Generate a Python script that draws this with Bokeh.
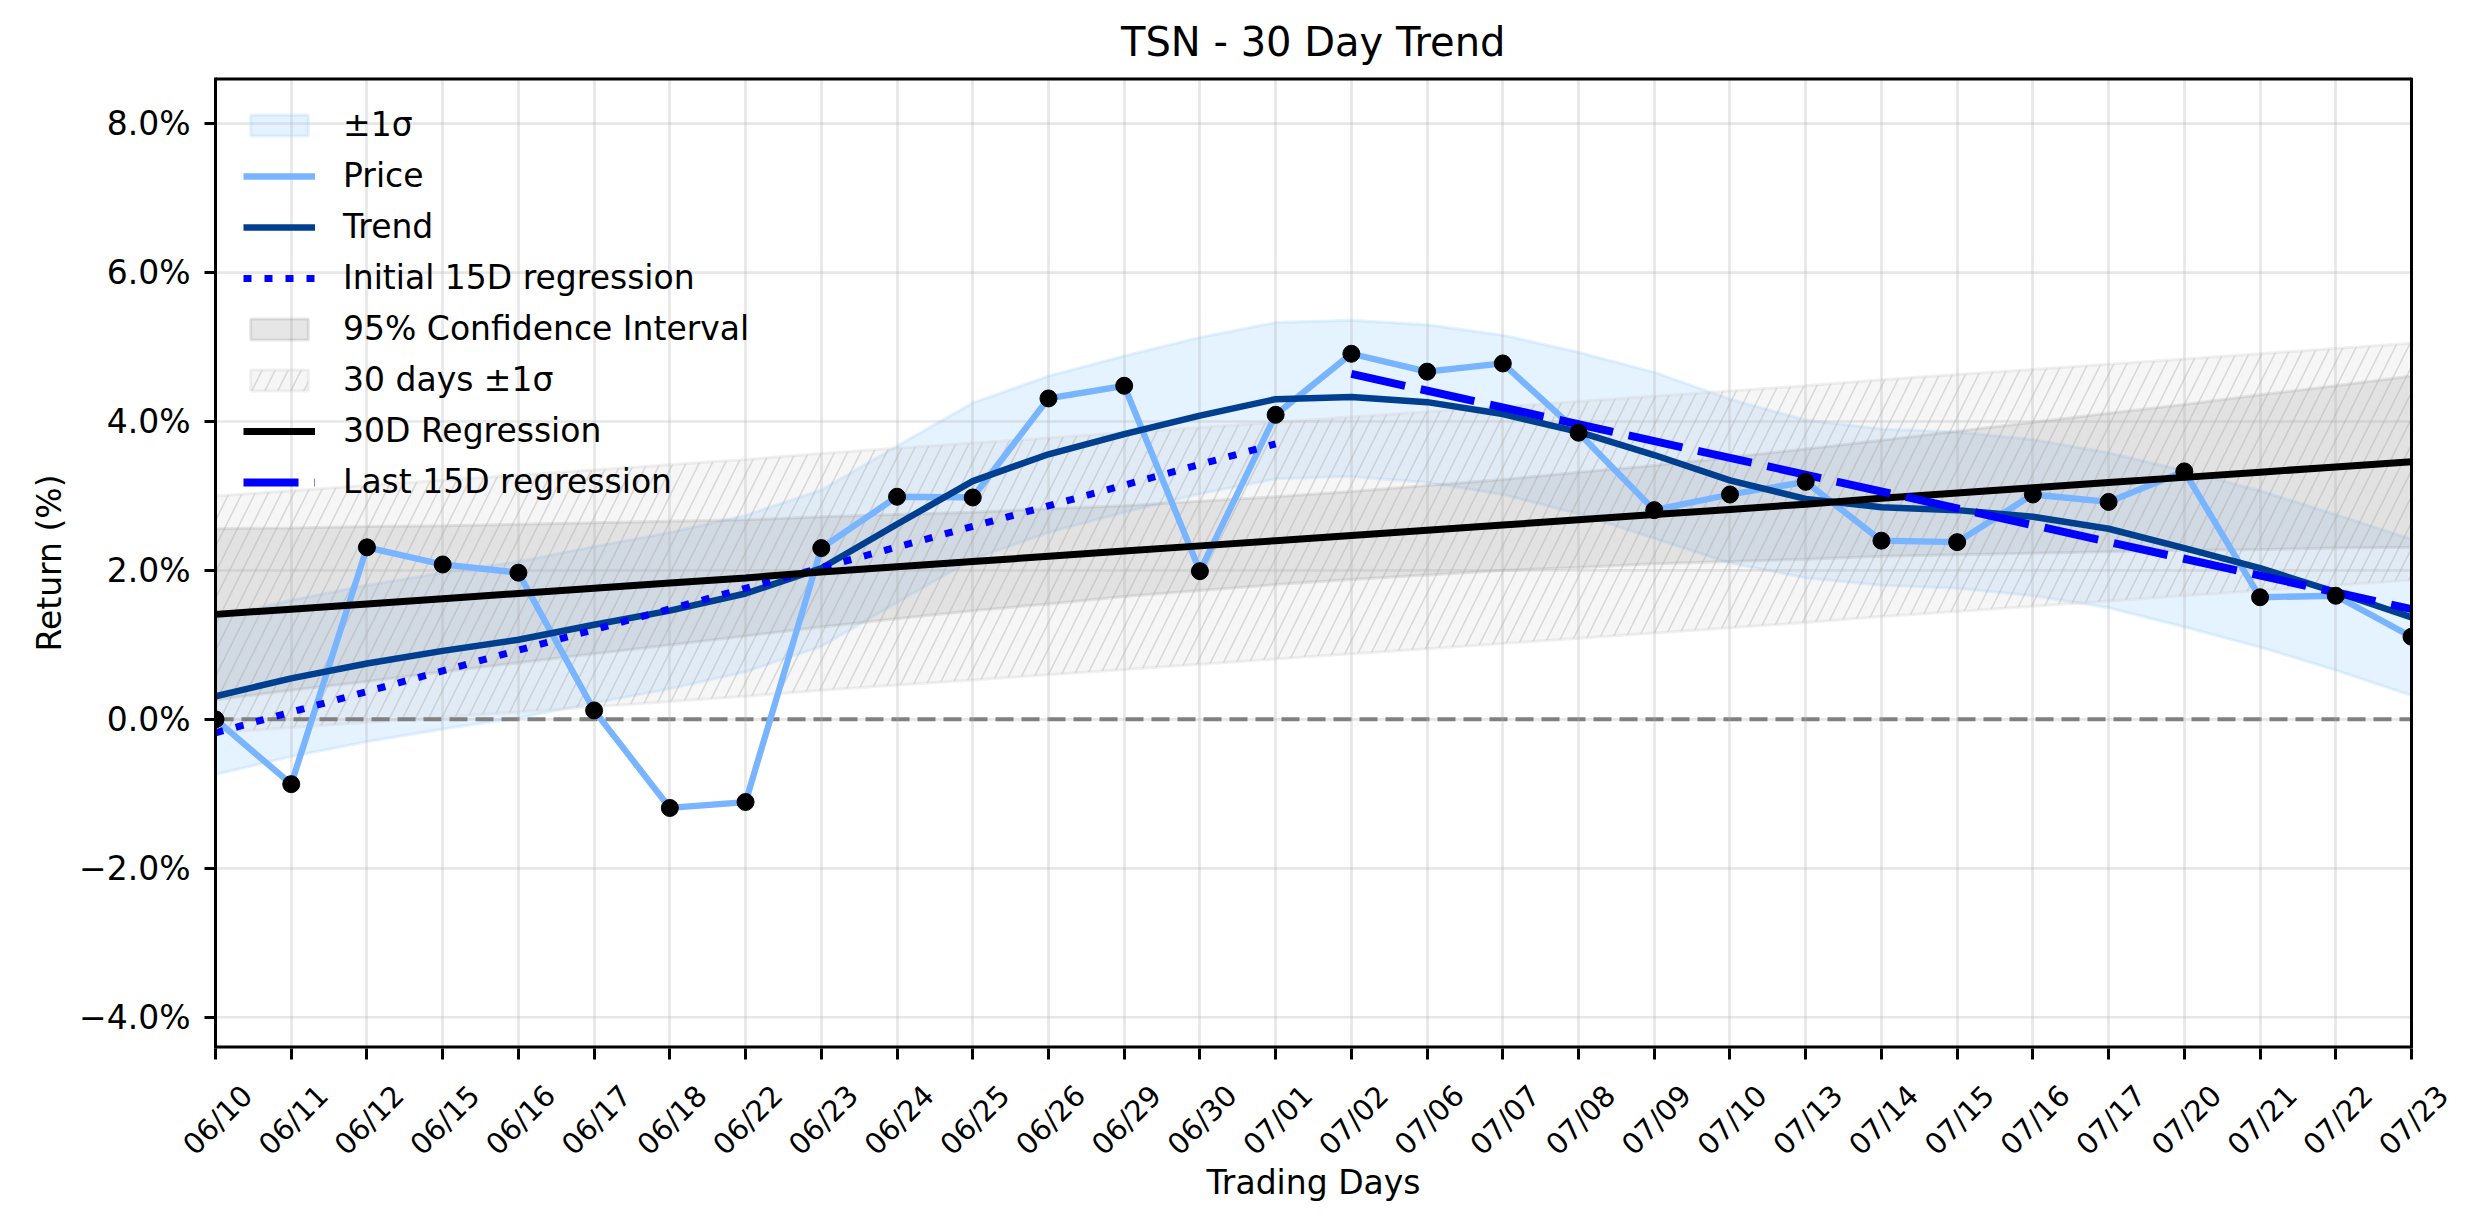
import math
from bokeh.plotting import figure
from bokeh.models import (Range1d, FixedTicker, CustomJSTickFormatter, Legend,
                          LegendItem, ColumnDataSource, LinearAxis)
from bokeh.embed import file_html
from bokeh.resources import INLINE

# ---------------- data ----------------
dates = ["06/10", "06/11", "06/12", "06/15", "06/16", "06/17", "06/18", "06/22",
         "06/23", "06/24", "06/25", "06/26", "06/29", "06/30", "07/01", "07/02",
         "07/06", "07/07", "07/08", "07/09", "07/10", "07/13", "07/14", "07/15",
         "07/16", "07/17", "07/20", "07/21", "07/22", "07/23"]

price = [0.00, -0.87, 2.31, 2.08, 1.97, 0.12, -1.19, -1.11, 2.30, 2.99,
         2.98, 4.31, 4.48, 1.99, 4.09, 4.91, 4.67, 4.78, 3.85, 2.81,
         3.02, 3.19, 2.40, 2.38, 3.02, 2.92, 3.33, 1.64, 1.66, 1.11]

trend = [0.31, 0.55, 0.75, 0.92, 1.07, 1.27, 1.46, 1.69, 2.03, 2.62,
         3.20, 3.56, 3.83, 4.08, 4.30, 4.33, 4.26, 4.10, 3.86, 3.55,
         3.21, 2.96, 2.85, 2.81, 2.72, 2.56, 2.30, 2.03, 1.71, 1.37]

sigma_upper = [1.36, 1.60, 1.80, 1.97, 2.12, 2.32, 2.51, 2.74, 3.08, 3.67,
               4.25, 4.61, 4.88, 5.13, 5.33, 5.36, 5.30, 5.16, 4.93, 4.66,
               4.30, 4.02, 3.90, 3.86, 3.76, 3.58, 3.34, 3.07, 2.75, 2.42]
sigma_lower = [-0.74, -0.50, -0.30, -0.13, 0.02, 0.22, 0.41, 0.64, 0.98, 1.57,
               2.15, 2.51, 2.78, 3.03, 3.23, 3.26, 3.18, 3.02, 2.76, 2.43,
               2.10, 1.90, 1.80, 1.76, 1.66, 1.50, 1.24, 0.97, 0.66, 0.32]

reg30 = [1.41, 1.48, 1.55, 1.62, 1.69, 1.76, 1.83, 1.90, 1.98, 2.05,
         2.12, 2.19, 2.26, 2.33, 2.40, 2.47, 2.54, 2.61, 2.68, 2.75,
         2.82, 2.89, 2.97, 3.04, 3.11, 3.18, 3.25, 3.32, 3.39, 3.46]

ci_upper = [2.56, 2.57, 2.59, 2.60, 2.62, 2.64, 2.66, 2.68, 2.72, 2.75,
            2.78, 2.83, 2.87, 2.93, 2.99, 3.06, 3.14, 3.22, 3.32, 3.41,
            3.52, 3.63, 3.75, 3.87, 3.99, 4.11, 4.23, 4.36, 4.48, 4.61]
ci_lower = [0.26, 0.39, 0.51, 0.64, 0.76, 0.88, 1.00, 1.12, 1.24, 1.35,
            1.46, 1.55, 1.65, 1.73, 1.81, 1.88, 1.94, 2.00, 2.04, 2.09,
            2.12, 2.15, 2.19, 2.21, 2.23, 2.25, 2.27, 2.28, 2.30, 2.31]

band30_upper = [3.00, 3.07, 3.14, 3.21, 3.28, 3.35, 3.42, 3.49, 3.57, 3.64,
                3.71, 3.78, 3.85, 3.92, 3.99, 4.06, 4.13, 4.20, 4.27, 4.34,
                4.41, 4.48, 4.56, 4.63, 4.70, 4.77, 4.84, 4.91, 4.98, 5.05]
band30_lower = [-0.18, -0.11, -0.04, 0.03, 0.10, 0.17, 0.24, 0.31, 0.39, 0.46,
                0.53, 0.60, 0.67, 0.74, 0.81, 0.88, 0.95, 1.02, 1.09, 1.16,
                1.23, 1.30, 1.38, 1.45, 1.52, 1.59, 1.66, 1.73, 1.80, 1.87]

init15_days = ["06/10", "07/01"]
init15_vals = [-0.18, 3.70]
last15_days = ["07/02", "07/23"]
last15_vals = [4.64, 1.48]

y_ticks = [-4, -2, 0, 2, 4, 6, 8]

# ---------------- layout constants ----------------
FONT = "DejaVu Sans"
idx = list(range(len(dates)))
N = len(dates) - 1
Y0, Y1 = -4.42, 8.62
W, H = 2474, 1224
LEFT, RIGHT, TOP, BOTTOM = 215, 63, 77, 176
PPU = (W - LEFT - RIGHT) / N          # pixels per trading day
XEND = N + RIGHT / PPU                 # frame runs on to the canvas edge
NBSP = "\u00a0"

p = figure(width=W, height=H, output_backend="svg", toolbar_location=None,
           x_range=Range1d(0, XEND), y_range=Range1d(Y0, Y1),
           min_border_left=LEFT, min_border_right=0,
           min_border_top=TOP, min_border_bottom=BOTTOM,
           title="TSN - 30 Day Trend" + NBSP * 5)
p.background_fill_color = "white"
p.border_fill_color = "white"
p.outline_line_color = None

p.title.text_font = FONT
p.title.text_font_size = "40px"
p.title.text_font_style = "normal"
p.title.text_color = "black"
p.title.align = "center"
p.title.standoff = 26

src = ColumnDataSource(dict(x=idx, price=price, trend=trend))


def band_poly(upper, lower):
    return idx + idx[::-1], list(upper) + list(lower)[::-1]


# horizontal grid lines, limited to the axes box
p.segment(x0=[0] * len(y_ticks), x1=[N] * len(y_ticks), y0=y_ticks, y1=y_ticks,
          line_color="#b0b0b0", line_alpha=0.3, line_width=2.7, level="underlay")

xs, ys = band_poly(sigma_upper, sigma_lower)
r_sig = p.patch(xs, ys, fill_color="#99ccff", fill_alpha=0.25,
                line_color="#99ccff", line_alpha=0.25, line_width=3, level="image")

r_price = p.line("x", "price", source=src, line_color="#78b4ff", line_width=6.3)
r_trend = p.line("x", "trend", source=src, line_color="#003f8f", line_width=6.5)
r_init = p.line([dates.index(d) for d in init15_days], init15_vals,
                line_color="#0000ff", line_width=7, line_dash="8 13")

xs, ys = band_poly(ci_upper, ci_lower)
r_ci = p.patch(xs, ys, fill_color="gray", fill_alpha=0.2,
               line_color="gray", line_alpha=0.2, line_width=3, level="image")

xs, ys = band_poly(band30_upper, band30_lower)
r_b30 = p.patch(xs, ys, fill_color="#d3d3d3", fill_alpha=0.2,
                line_color="#d3d3d3", line_alpha=0.35, line_width=3,
                hatch_pattern="/", hatch_color="#a0a0a0", hatch_alpha=0.35,
                hatch_scale=26, hatch_weight=1.6, level="image")

r_reg = p.line(idx, reg30, line_color="black", line_width=7)
r_last = p.line([dates.index(d) for d in last15_days], last15_vals,
                line_color="#0000ff", line_width=8, line_dash="55 16")

# zero reference line
p.segment(x0=[0], x1=[N], y0=[0], y1=[0], line_color="gray", line_width=4,
          line_dash="18 8", level="underlay")

p.scatter("x", "price", source=src, size=17, fill_color="black", line_color="black")

# mask everything to the right of the last day, then draw the box
p.quad(left=[N], right=[XEND], bottom=[Y0], top=[Y1],
       fill_color="white", line_color=None)
p.segment(x0=[0, N, 0], x1=[N, N, N], y0=[Y1, Y0, Y0], y1=[Y1, Y1, Y0],
          line_color="black", line_width=[6, 3, 6])

# ---------------- axes ----------------
p.xaxis.ticker = FixedTicker(ticks=idx)
p.xaxis.major_label_overrides = {i: "" for i in idx}
p.xaxis.major_label_text_font_size = "0px"
p.xaxis.major_label_standoff = 0
p.xaxis.axis_line_color = None
p.xaxis.major_tick_line_color = "black"
p.xaxis.major_tick_line_width = 3
p.xaxis.major_tick_out = 11
p.xaxis.major_tick_in = 0
p.xaxis.minor_tick_line_color = None

# rotated day labels on a shifted copy of the x scale (centred under ticks)
LABEL_SHIFT = 0.42
p.extra_x_ranges = {"lab": Range1d(-LABEL_SHIFT, XEND - LABEL_SHIFT)}
lab_axis = LinearAxis(x_range_name="lab", ticker=FixedTicker(ticks=idx),
                      major_label_overrides={i: d for i, d in zip(idx, dates)},
                      major_label_orientation=math.pi / 4,
                      major_label_text_font=FONT, major_label_text_font_size="29px",
                      major_label_text_color="black", major_label_standoff=25,
                      axis_line_color=None, major_tick_line_color=None,
                      minor_tick_line_color=None,
                      axis_label="Trading Days" + NBSP * 6, axis_label_standoff=-14,
                      axis_label_text_font=FONT, axis_label_text_font_size="33px",
                      axis_label_text_font_style="normal", axis_label_text_color="black")
p.add_layout(lab_axis, "below")

p.yaxis.ticker = FixedTicker(ticks=y_ticks)
p.yaxis.formatter = CustomJSTickFormatter(
    code="return (tick < 0 ? '\u2212' : '') + Math.abs(tick).toFixed(1) + '%';")
p.yaxis.major_label_text_font = FONT
p.yaxis.major_label_text_font_size = "33px"
p.yaxis.major_label_text_color = "black"
p.yaxis.major_label_standoff = 14
p.yaxis.axis_label = "Return (%)"
p.yaxis.axis_label_standoff = 7
p.yaxis.axis_label_text_font = FONT
p.yaxis.axis_label_text_font_size = "33px"
p.yaxis.axis_label_text_font_style = "normal"
p.yaxis.axis_label_text_color = "black"
p.yaxis.axis_line_color = "black"
p.yaxis.axis_line_width = 3
p.yaxis.major_tick_line_color = "black"
p.yaxis.major_tick_line_width = 3
p.yaxis.major_tick_out = 11
p.yaxis.major_tick_in = 0
p.yaxis.minor_tick_line_color = None

p.xgrid.ticker = FixedTicker(ticks=idx)
p.xgrid.grid_line_color = "#b0b0b0"
p.xgrid.grid_line_alpha = 0.3
p.xgrid.grid_line_width = 2.7
p.ygrid.visible = False

# ---------------- legend ----------------
legend = Legend(items=[
    LegendItem(label="±1σ", renderers=[r_sig]),
    LegendItem(label="Price", renderers=[r_price]),
    LegendItem(label="Trend", renderers=[r_trend]),
    LegendItem(label="Initial 15D regression", renderers=[r_init]),
    LegendItem(label="95% Confidence Interval", renderers=[r_ci]),
    LegendItem(label="30 days ±1σ", renderers=[r_b30]),
    LegendItem(label="30D Regression", renderers=[r_reg]),
    LegendItem(label="Last 15D regression", renderers=[r_last]),
], location="top_left")
legend.label_text_font = FONT
legend.label_text_font_size = "33px"
legend.label_text_color = "black"
legend.glyph_width = 72
legend.glyph_height = 26
legend.label_standoff = 28
legend.spacing = 12
legend.padding = 0
legend.margin = 28
legend.border_line_alpha = 0
legend.background_fill_alpha = 0
p.add_layout(legend)

open("out.html", "w").write(file_html(p, INLINE))
